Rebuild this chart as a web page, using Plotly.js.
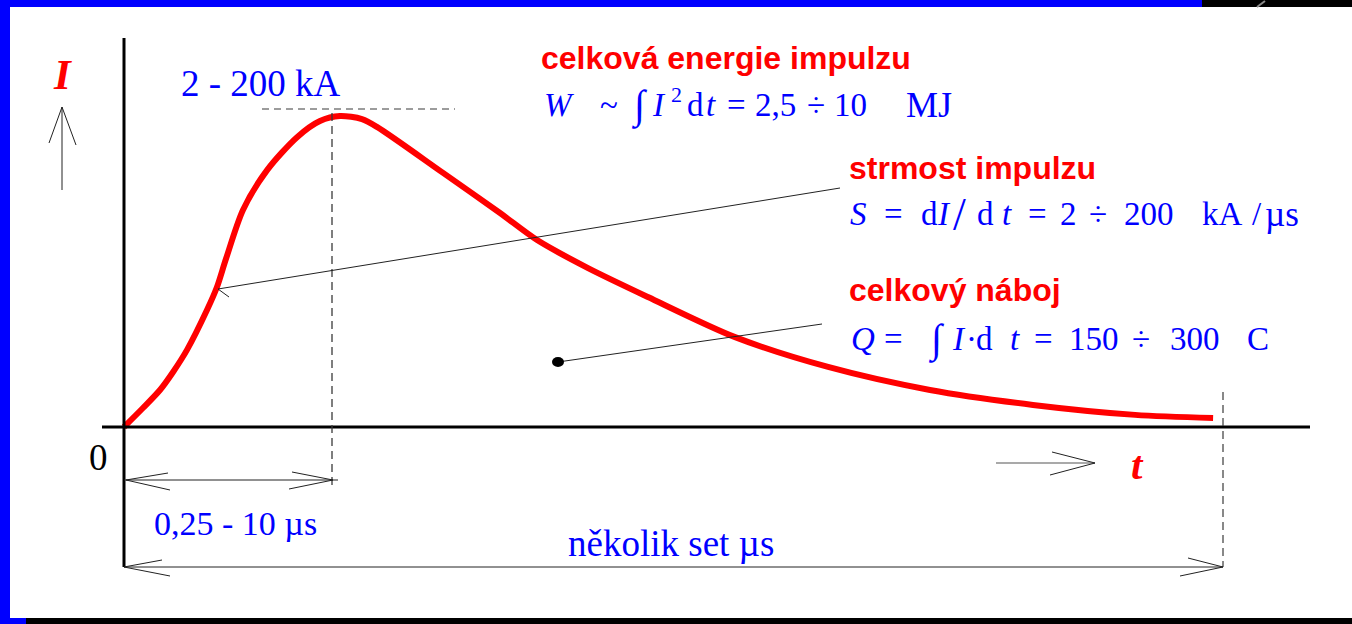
<!DOCTYPE html>
<html>
<head>
<meta charset="utf-8">
<script src="https://cdn.plot.ly/plotly-3.0.1.min.js"></script>
<style>
  html, body { margin: 0; padding: 0; background: #ffffff; }
  #chart { width: 1352px; height: 624px; }
</style>
</head>
<body>
<div id="chart"></div>
<script>
// Lightning current impulse: time in units of the rise time, current relative to the peak
const timeValues = [0, 0.091, 0.173, 0.236, 0.303, 0.399, 0.447, 0.490, 0.572, 0.688, 0.832, 0.942, 1.038,
  1.144, 1.216, 1.534, 1.808, 1.986, 2.231, 2.519, 2.938, 3.385, 3.875, 4.370, 4.861, 5.236];
const currentValues = [0, 0.061, 0.119, 0.177, 0.248, 0.376, 0.450, 0.540, 0.698, 0.826, 0.932, 0.984, 1.0,
  0.990, 0.965, 0.817, 0.688, 0.601, 0.511, 0.418, 0.289, 0.193, 0.119, 0.071, 0.039, 0.029];

// Text labels
const axisLabelI = 'I';
const axisLabelT = 't';
const originLabel = '0';
const peakLabel = '2 - 200 kA';
const riseLabel = '0,25 - 10 µs';
const durationLabel = 'několik set µs';
const energyTitle = 'celková energie impulzu';
const steepTitle = 'strmost impulzu';
const chargeTitle = 'celkový náboj';

// Formula pieces: [text, left edge px, font size, vertical shift px]
const energyFormula = [
  ['<i>W</i>', 542], ['~', 598], ['∫', 629, 40], ['<i>I</i>', 650], ['2', 669, 22, -11],
  ['d', 685], ['<i>t</i>', 704], ['=', 725], ['2,5', 753], ['÷', 805], ['10', 832], ['MJ', 904, 36]
];
const steepFormula = [
  ['<i>S</i>', 848], ['=', 882], ['d', 919], ['<i>I</i>', 935], ['/', 951, 46], ['d', 975],
  ['<i>t</i>', 1000], ['=', 1026], ['2', 1058], ['÷', 1087], ['200', 1122], ['kA', 1200],
  ['/', 1250], ['µs', 1263, 35]
];
const chargeFormula = [
  ['<i>Q</i>', 849], ['=', 882], ['∫', 926, 40], ['<i>I</i>', 950], ['·', 964], ['d', 974],
  ['<i>t</i>', 1008], ['=', 1032], ['150', 1067], ['÷', 1130], ['300', 1168], ['C', 1245]
];

const W = 1352, H = 624;
const px = x => x / W;
const py = y => 1 - y / H;

const BLUE = '#0000ff', RED = '#ff0000', INK = '#222222', DASH = '#3a3a3a';

function seg(x0, y0, x1, y1, color, width, dash) {
  return { type: 'line', xref: 'paper', yref: 'paper', x0: px(x0), y0: py(y0), x1: px(x1), y1: py(y1),
    line: { color: color, width: width, dash: dash || 'solid' } };
}
function box(x0, y0, x1, y1, color) {
  return { type: 'rect', xref: 'paper', yref: 'paper', x0: px(x0), y0: py(y0), x1: px(x1), y1: py(y1),
    fillcolor: color, line: { width: 0 }, layer: 'above' };
}

const shapes = [
  // frame
  box(0, 0, 10, 624, BLUE),
  box(0, 0, 1202, 7, BLUE),
  box(1202, 0, 1352, 7, '#000000'),
  box(26, 618, 1352, 624, '#000000'),
  box(0, 618, 26, 624, BLUE),
  seg(1257, 7, 1265, 1, '#8a8a8a', 2),
  // axes through the origin
  { type: 'line', xref: 'paper', yref: 'y', x0: px(102), x1: px(1310), y0: 0, y1: 0, line: { color: '#000', width: 3 } },
  { type: 'line', xref: 'x', yref: 'paper', x0: 0, x1: 0, y0: py(38), y1: py(567), line: { color: '#000', width: 3 } },
  // guide lines at the peak and at the end of the impulse
  seg(262, 109, 455, 109, DASH, 1.2, '7px,5px'),
  { type: 'line', xref: 'x', yref: 'paper', x0: 1, x1: 1, y0: py(113), y1: py(487), line: { color: DASH, width: 1.3, dash: '8px,5px' } },
  seg(1223, 392, 1223, 567, DASH, 1.2, '8px,5px'),
  // rise time arrow
  seg(124, 480, 338, 480, INK, 1),
  seg(126, 480, 168, 473, INK, 1), seg(126, 480, 170, 490, INK, 1),
  seg(333, 480, 292, 472, INK, 1), seg(333, 480, 289, 489, INK, 1),
  // duration arrow
  seg(124, 567, 1223, 567, INK, 1),
  seg(124, 567, 162, 560, INK, 1), seg(124, 567, 170, 576, INK, 1),
  seg(1223, 567, 1188, 558, INK, 1), seg(1223, 567, 1180, 576, INK, 1),
  // time direction arrow
  seg(996, 463, 1095, 463, '#555', 1.2),
  seg(1095, 463, 1052, 452, INK, 1), seg(1095, 463, 1050, 475, INK, 1),
  // current direction arrow
  seg(62, 190, 62, 107, INK, 1),
  seg(62, 107, 49, 143, INK, 1), seg(62, 107, 76, 145, INK, 1),
  // steepness leader
  seg(218, 289, 840, 188, INK, 1),
  seg(218, 289, 229, 297, INK, 1),
  // charge leader with dot
  seg(558, 362, 822, 324, INK, 1),
  { type: 'circle', xref: 'paper', yref: 'paper', x0: px(552), x1: px(564), y0: py(357), y1: py(367),
    fillcolor: '#000', line: { width: 0 } }
];

const serif = 'Liberation Serif, Times New Roman, serif';
const sans = 'Liberation Sans, Arial, sans-serif';

function label(text, x, y, font, anchor, yshift) {
  return { text: text, xref: 'paper', yref: 'paper', x: px(x), y: py(y), showarrow: false,
    xanchor: anchor || 'left', yanchor: 'middle', yshift: -(yshift || 0), font: font };
}
function formula(pieces, y, size) {
  return pieces.map(p => label(p[0], p[1], y, { family: serif, size: p[2] || size, color: BLUE }, 'left', p[3] || 0));
}

const annotations = [
  label('<b><i>' + axisLabelI + '</i></b>', 62, 74, { family: serif, size: 43, color: RED }, 'center'),
  label('<b><i>' + axisLabelT + '</i></b>', 1137, 465, { family: serif, size: 41, color: RED }, 'center'),
  label(originLabel, 98, 458, { family: serif, size: 37, color: '#000' }, 'center'),
  label(peakLabel, 179, 84, { family: serif, size: 37, color: BLUE }),
  label(riseLabel, 152, 523, { family: serif, size: 34, color: BLUE }),
  label(durationLabel, 566, 543, { family: serif, size: 37, color: BLUE }),
  label('<b>' + energyTitle + '</b>', 539, 58, { family: sans, size: 32, color: RED }),
  label('<b>' + steepTitle + '</b>', 847, 168, { family: sans, size: 32, color: RED }),
  label('<b>' + chargeTitle + '</b>', 847, 290, { family: sans, size: 32, color: RED })
].concat(formula(energyFormula, 105, 33), formula(steepFormula, 214, 33), formula(chargeFormula, 339, 33));

const trace = {
  x: timeValues, y: currentValues, type: 'scatter', mode: 'lines',
  line: { color: RED, width: 6, shape: 'spline', smoothing: 0.8 },
  hoverinfo: 'skip'
};

const layout = {
  width: W, height: H,
  margin: { l: 0, r: 0, t: 0, b: 0 },
  paper_bgcolor: '#ffffff', plot_bgcolor: '#ffffff',
  showlegend: false,
  xaxis: { range: [-124 / 208, 1228 / 208], visible: false, fixedrange: true },
  yaxis: { range: [(427 - 624) / 311, 427 / 311], visible: false, fixedrange: true },
  shapes: shapes,
  annotations: annotations
};

Plotly.newPlot('chart', [trace], layout, { displayModeBar: false, staticPlot: true });
</script>
</body>
</html>
